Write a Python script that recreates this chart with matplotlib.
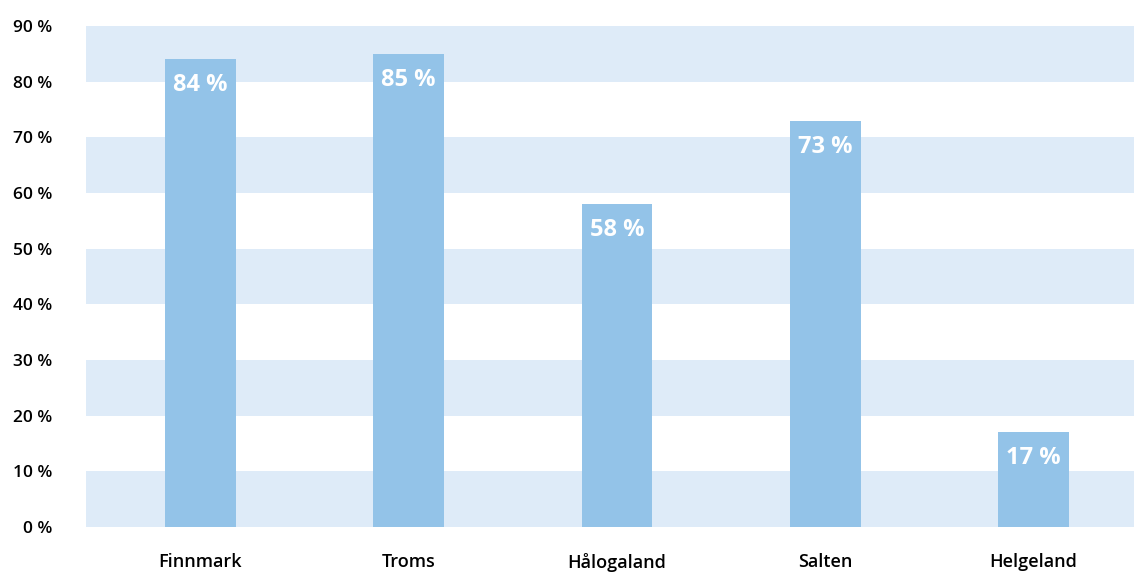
import matplotlib.pyplot as plt

regions = ["Finnmark", "Troms", "Hålogaland", "Salten", "Helgeland"]
shares = [84, 85, 58, 73, 17]
y_ticks = [0, 10, 20, 30, 40, 50, 60, 70, 80, 90]

BAR_COLOR = "#93c3e8"
BAND_COLOR = "#deebf8"

plt.rcParams["font.family"] = ["Open Sans", "DejaVu Sans"]

fig = plt.figure(figsize=(11.34, 5.74), dpi=100)
ax = fig.add_axes([86 / 1134, 47 / 574, 1048 / 1134, 501 / 574])

# Alternating horizontal bands behind the bars
for lo in y_ticks[:-1:2]:
    ax.axhspan(lo, lo + 10, color=BAND_COLOR, lw=0, zorder=0)

positions = range(len(regions))
bars = ax.bar(positions, shares, width=0.34, color=BAR_COLOR, zorder=2)

for rect, val in zip(bars, shares):
    ax.annotate(f"{val} %", (rect.get_x() + rect.get_width() / 2, val),
                xytext=(0, -10), textcoords="offset points",
                ha="center", va="top", color="white",
                fontsize=17, fontweight="bold", zorder=3)

ax.set_xlim(-0.55, 4.483)
ax.set_ylim(0, 90)
ax.set_yticks(y_ticks)
ax.set_yticklabels([f"{t} %" for t in y_ticks], fontsize=12.5, fontweight="semibold")
ax.set_xticks(list(positions))
ax.set_xticklabels(regions, fontsize=13, fontweight="semibold")
ax.tick_params(axis="y", length=0, pad=24)
ax.tick_params(axis="x", length=0, pad=19)
for spine in ax.spines.values():
    spine.set_visible(False)

fig.savefig("out.png", dpi=100)
